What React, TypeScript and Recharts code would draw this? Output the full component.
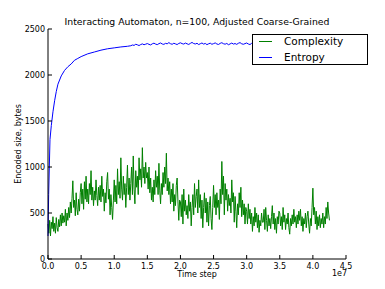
import React from 'react';
import { LineChart, Line, XAxis, YAxis } from 'recharts';

// complexity is sampled every 0.0125e7 steps starting at 0
const COMPLEXITY_STEP = 125000;
const complexityValues = [
  380, 280, 420, 250, 400, 330, 460, 300, 390, 280, 450, 340, 300, 430, 350, 480, 360, 500, 390, 470,
  400, 540, 360, 500, 420, 560, 450, 620, 500, 660, 850, 560, 640, 470, 720, 540, 480, 650, 520, 720,
  820, 600, 760, 540, 840, 650, 900, 620, 760, 600, 820, 700, 960, 640, 780, 580, 740, 640, 860, 690,
  580, 780, 640, 800, 620, 900, 680, 760, 520, 720, 610, 840, 940, 650, 760, 480, 700, 560, 430, 640,
  860, 620, 800, 600, 980, 700, 840, 660, 1100, 760, 640, 900, 700, 820, 560, 780, 1020, 700, 880, 640,
  820, 1000, 700, 1120, 760, 600, 960, 780, 900, 700, 1100, 860, 980, 780, 1210, 880, 1000, 820, 1050, 880,
  940, 760, 1000, 720, 880, 640, 780, 620, 860, 700, 960, 780, 900, 700, 1040, 740, 600, 820, 700, 940,
  780, 1000, 820, 1150, 740, 880, 700, 840, 600, 760, 620, 820, 520, 700, 580, 800, 880, 620, 420, 640,
  620, 460, 700, 380, 760, 520, 640, 480, 580, 440, 700, 520, 620, 360, 560, 700, 480, 820, 560, 680,
  760, 500, 860, 560, 700, 440, 640, 340, 560, 720, 500, 660, 400, 620, 360, 580, 680, 440, 320, 560,
  800, 560, 700, 480, 720, 560, 640, 430, 760, 600, 1060, 700, 900, 480, 820, 640, 760, 520, 700, 580,
  660, 500, 860, 620, 720, 400, 680, 520, 340, 600, 480, 720, 560, 780, 460, 640, 480, 600, 380, 560,
  520, 380, 600, 440, 540, 380, 500, 300, 460, 360, 560, 400, 500, 340, 480, 290, 420, 360, 500, 400,
  400, 540, 320, 560, 420, 300, 480, 360, 440, 330, 460, 580, 380, 500, 320, 440, 280, 460, 380, 520,
  500, 360, 460, 320, 560, 400, 480, 320, 440, 380, 500, 340, 270, 440, 360, 480, 380, 540, 400, 460,
  340, 480, 380, 520, 420, 540, 360, 460, 300, 440, 380, 500, 340, 460, 520, 380, 280, 440, 360, 560,
  770, 480, 560, 380, 520, 320, 460, 360, 480, 340, 440, 380, 500, 340, 460, 380, 560, 440, 620, 500,
  420,
];

// entropy: fast rise (times in units of 1e7), then a noisy plateau
const entropyRiseTimes = [0, 0.01, 0.02, 0.03, 0.05, 0.075, 0.1, 0.125, 0.15, 0.2, 0.25, 0.3, 0.35, 0.4, 0.45, 0.5, 0.6, 0.7, 0.8, 0.9, 1.0, 1.1, 1.2];
const entropyRiseValues = [250, 700, 1000, 1300, 1450, 1600, 1720, 1820, 1900, 1990, 2050, 2090, 2120, 2160, 2180, 2200, 2230, 2250, 2270, 2285, 2295, 2305, 2312];
const PLATEAU_START = 12500000;
const PLATEAU_STEP = 250000;
const entropyPlateauValues = [
  2318, 2326, 2322, 2334, 2328, 2320, 2331, 2338, 2329, 2335,
  2342, 2333, 2327, 2339, 2346, 2336, 2330, 2341, 2348, 2337,
  2333, 2344, 2339, 2352, 2340, 2334, 2345, 2338, 2331, 2343,
  2350, 2341, 2336, 2347, 2339, 2332, 2344, 2354, 2342, 2337,
  2345, 2331, 2340, 2348, 2336, 2343, 2330, 2339, 2346, 2334,
  2341, 2349, 2337, 2332, 2344, 2351, 2340, 2335, 2343, 2329,
  2338, 2347, 2336, 2342, 2333, 2345, 2352, 2339, 2334, 2341,
  2348, 2337, 2331, 2344, 2339, 2350, 2336, 2342, 2330, 2340,
  2347, 2335, 2343, 2338, 2353, 2341, 2334, 2345, 2337, 2332,
  2344, 2349, 2336, 2341, 2330, 2346, 2339, 2335, 2343, 2350,
  2338, 2333, 2345, 2340, 2336, 2348, 2342, 2331, 2339, 2346,
  2337, 2343, 2334, 2349, 2340, 2335, 2344, 2338, 2342, 2336,
  2340,
];

const xTicks = [0, 5e6, 1e7, 1.5e7, 2e7, 2.5e7, 3e7, 3.5e7, 4e7, 4.5e7];
const yTicks = [0, 500, 1000, 1500, 2000, 2500];

const complexityData = complexityValues.map((v, i) => ({ t: i * COMPLEXITY_STEP, v }));
const entropyData = [
  ...entropyRiseTimes.map((t, i) => ({ t: t * 1e7, v: entropyRiseValues[i] })),
  ...entropyPlateauValues.map((v, i) => ({ t: PLATEAU_START + i * PLATEAU_STEP, v })),
];

const FONT = '"DejaVu Sans", sans-serif';
const TICK = 4;

const BottomTick = ({ x, y, payload }: any) => (
  <g>
    <line x1={x} y1={y} x2={x} y2={y - TICK} stroke="#000" />
    <text x={x} y={y + 9.5} textAnchor="middle" fontSize={8} fontFamily={FONT} fill="#000">
      {(payload.value / 1e7).toFixed(1)}
    </text>
  </g>
);

const TopTick = ({ x, y }: any) => <line x1={x} y1={y} x2={x} y2={y + TICK} stroke="#000" />;

const LeftTick = ({ x, y, payload }: any) => (
  <g>
    <line x1={x} y1={y} x2={x + TICK} y2={y} stroke="#000" />
    <text x={x - 3} y={y + 2.5} textAnchor="end" fontSize={8} fontFamily={FONT} fill="#000">
      {payload.value}
    </text>
  </g>
);

const RightTick = ({ x, y }: any) => <line x1={x} y1={y} x2={x - TICK} y2={y} stroke="#000" />;

function App() {
  return (
    <div style={{ position: 'absolute', left: 0, top: 0, width: 385, height: 289, background: '#fff' }}>
      <LineChart width={385} height={289} data={entropyData} margin={{ top: 29, right: 39, left: 0, bottom: 0 }}>
        <XAxis xAxisId="b" dataKey="t" type="number" domain={[0, 4.5e7]} ticks={xTicks} interval={0}
          height={30} tickSize={0} tickMargin={0} tick={<BottomTick />} axisLine={{ stroke: '#000' }} tickLine={false} />
        <XAxis xAxisId="top" orientation="top" dataKey="t" type="number" domain={[0, 4.5e7]} ticks={xTicks} interval={0}
          height={0} tickSize={0} tickMargin={0} tick={<TopTick />} axisLine={{ stroke: '#000' }} tickLine={false} />
        <YAxis yAxisId="l" type="number" domain={[0, 2500]} ticks={yTicks} interval={0}
          width={48} tickSize={0} tickMargin={0} tick={<LeftTick />} axisLine={{ stroke: '#000' }} tickLine={false} />
        <YAxis yAxisId="r" orientation="right" type="number" domain={[0, 2500]} ticks={yTicks} interval={0}
          width={0} tickSize={0} tickMargin={0} tick={<RightTick />} axisLine={{ stroke: '#000' }} tickLine={false} />
        <Line xAxisId="top" yAxisId="r" data={entropyData} dataKey="v" stroke="none" dot={false}
          isAnimationActive={false} legendType="none" />
        <Line xAxisId="b" yAxisId="l" data={complexityData} dataKey="v" stroke="#008000" strokeWidth={1}
          dot={false} isAnimationActive={false} name="Complexity" />
        <Line xAxisId="b" yAxisId="l" data={entropyData} dataKey="v" stroke="#0000ff" strokeWidth={1}
          dot={false} isAnimationActive={false} name="Entropy" />
      </LineChart>
      <svg width={385} height={289} style={{ position: 'absolute', left: 0, top: 0, pointerEvents: 'none' }}
        fontFamily={FONT}>
        <text x={197} y={25} textAnchor="middle" fontSize={9.3}>Interacting Automaton, n=100, Adjusted Coarse-Grained</text>
        <text x={197} y={277} textAnchor="middle" fontSize={8}>Time step</text>
        <text x={347} y={276} textAnchor="end" fontSize={8}>1e7</text>
        <text transform="translate(21,144) rotate(-90)" textAnchor="middle" fontSize={8}>Encoded size, bytes</text>
        <rect x={252.5} y={34.5} width={115} height={30} fill="#fff" stroke="#000" />
        <line x1={259} y1={41.5} x2={272} y2={41.5} stroke="#008000" />
        <text x={284} y={44.8} fontSize={10.5}>Complexity</text>
        <line x1={259} y1={57.5} x2={272} y2={57.5} stroke="#0000ff" />
        <text x={284} y={60.5} fontSize={10.5}>Entropy</text>
      </svg>
    </div>
  );
}

export default App;
